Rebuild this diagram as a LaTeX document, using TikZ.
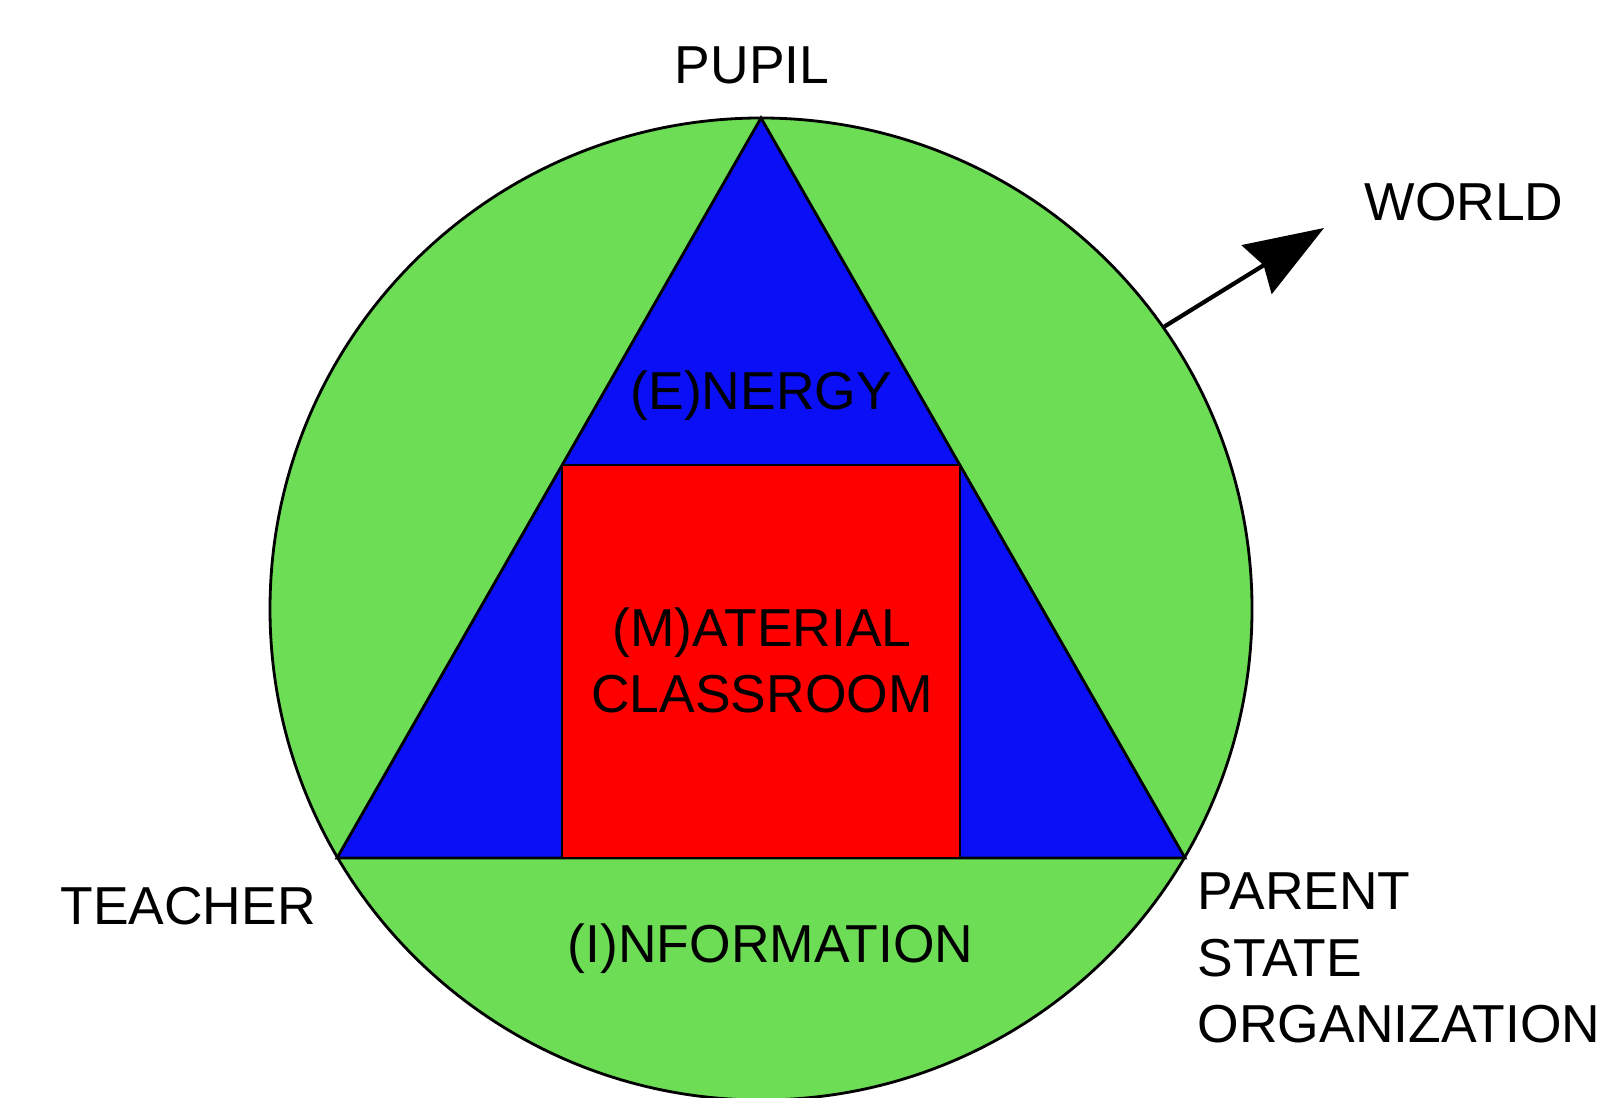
\documentclass[tikz,border=0pt]{standalone}
\usepackage{fontspec}
\setmainfont{Liberation Sans}
\usepackage{tikz}
\usetikzlibrary{arrows.meta}
\definecolor{discgreen}{RGB}{108,221,84}
\definecolor{triblue}{RGB}{10,15,245}
\definecolor{boxred}{RGB}{255,0,0}

\begin{document}
\begin{tikzpicture}[lbl/.style={font=\fontsize{15.2}{18.9}\selectfont,inner sep=0pt}]
\useasboundingbox (0,0) rectangle (16.09,10.97);
\begin{scope}
\clip (0,0) rectangle (16.09,10.97);
\node (disc) [circle,draw=black,line width=0.8pt,fill=discgreen,minimum size=9.82cm,inner sep=0pt] at (7.61,4.88) {};
\end{scope}
\filldraw[draw=black,line width=0.8pt,fill=triblue] (7.61,9.79) -- (3.37,2.39) -- (11.85,2.39) -- cycle;
\filldraw[draw=black,line width=0.8pt,fill=boxred] (5.62,2.39) rectangle (9.60,6.32);
\coordinate (world tip) at (13.24,8.69);
\draw[line width=1.2pt,-{Stealth[length=7.9mm,width=5.7mm,inset=0.8mm]}] (disc.35) -- (world tip);
\node (pupil) [lbl,anchor=base] at (7.52,10.13) {PUPIL};
\node (world) [lbl,anchor=base] at (14.64,8.763) {WORLD};
\node (teacher) [lbl,anchor=base] at (1.88,1.727) {TEACHER};
\node (parent) [lbl,anchor=north west,align=left] at (11.97,2.247) {PARENT\\STATE\\ORGANIZATION};
\node (energy) [lbl,anchor=base] at (7.613,6.87) {(E)NERGY};
\node (material) [lbl,anchor=north,align=center] at (7.62,4.903) {(M)ATERIAL\\CLASSROOM};
\node (information) [lbl,anchor=base] at (7.707,1.347) {(I)NFORMATION};
\end{tikzpicture}
\end{document}
